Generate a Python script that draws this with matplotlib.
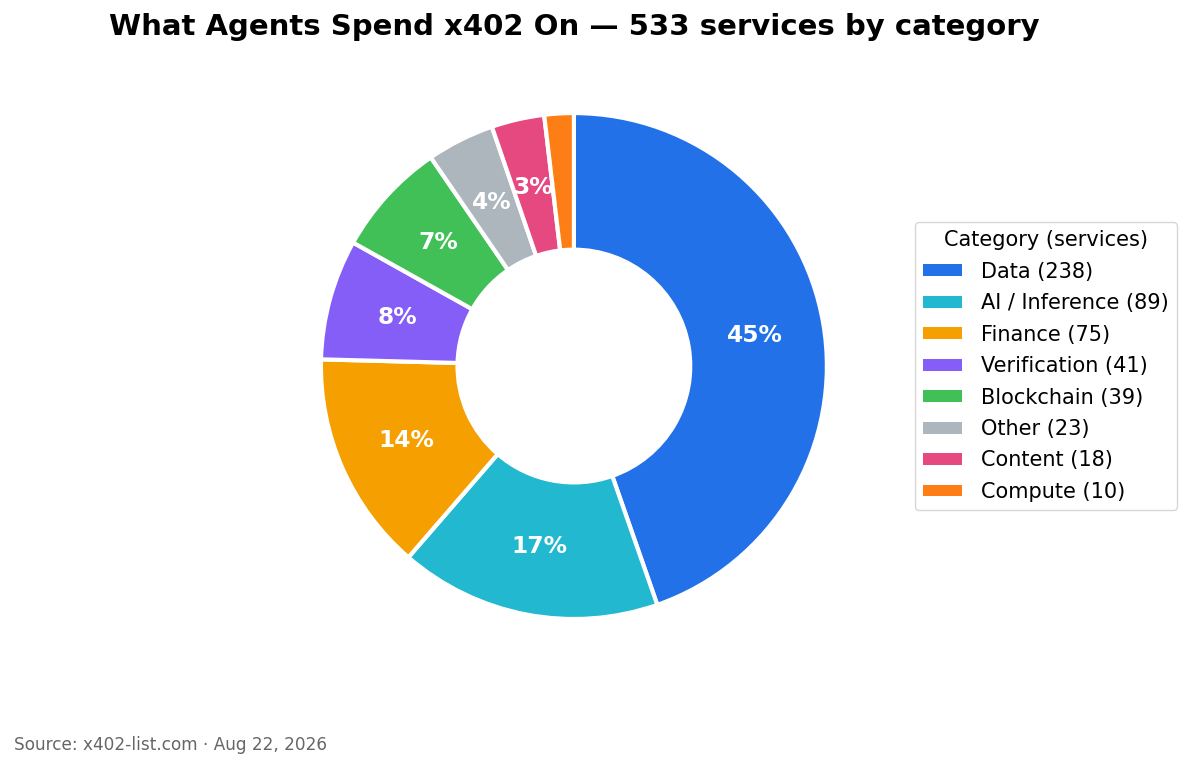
import matplotlib
matplotlib.use("Agg")
import matplotlib.pyplot as plt

plt.rcParams["font.family"] = ["DejaVu Sans"]

categories = ["Data", "AI / Inference", "Finance", "Verification", "Blockchain", "Other", "Content", "Compute"]
counts = [238, 89, 75, 41, 39, 23, 18, 10]
colors = ["#2271e8", "#22b8cf", "#f59f00", "#845ef7", "#40c057", "#adb5bd", "#e64980", "#fd7e14"]
title = "What Agents Spend x402 On \u2014 533 services by category"
source = "Source: x402-list.com \u00b7 Aug 22, 2026"

fig = plt.figure(figsize=(11.93, 7.69), dpi=100)
ax = fig.add_axes([0.269, 0.195, 0.4241, 0.658])

def fmt(p):
    return f"{p:.0f}%" if p >= 3 else ""

wedges, texts, autotexts = ax.pie(
    counts, colors=colors, startangle=90, counterclock=False,
    wedgeprops=dict(width=0.54, edgecolor="white", linewidth=3),
    autopct=fmt, pctdistance=0.725,
    textprops=dict(color="white", fontsize=16.8, fontweight="bold"),
)
ax.set_xlim(-1.0, 1.0)
ax.set_ylim(-1.0, 1.0)
ax.set_aspect("equal")

labels = [f"{c} ({n})" for c, n in zip(categories, counts)]
leg = fig.legend(wedges, labels, title="Category (services)", loc="center left",
                 bbox_to_anchor=(0.758, 0.524), fontsize=15, title_fontsize=15,
                 handlelength=1.85, handleheight=0.5, labelspacing=0.55, handletextpad=0.95,
                 frameon=True, edgecolor="#cccccc")
for h in leg.legend_handles:
    h.set_edgecolor("none")

fig.text(0.481, 0.965, title, ha="center", va="center", fontsize=21, fontweight="bold")
fig.text(0.012, 0.031, source, ha="left", va="center", fontsize=12.2, color="#666666")

fig.savefig("out.png", dpi=100)
